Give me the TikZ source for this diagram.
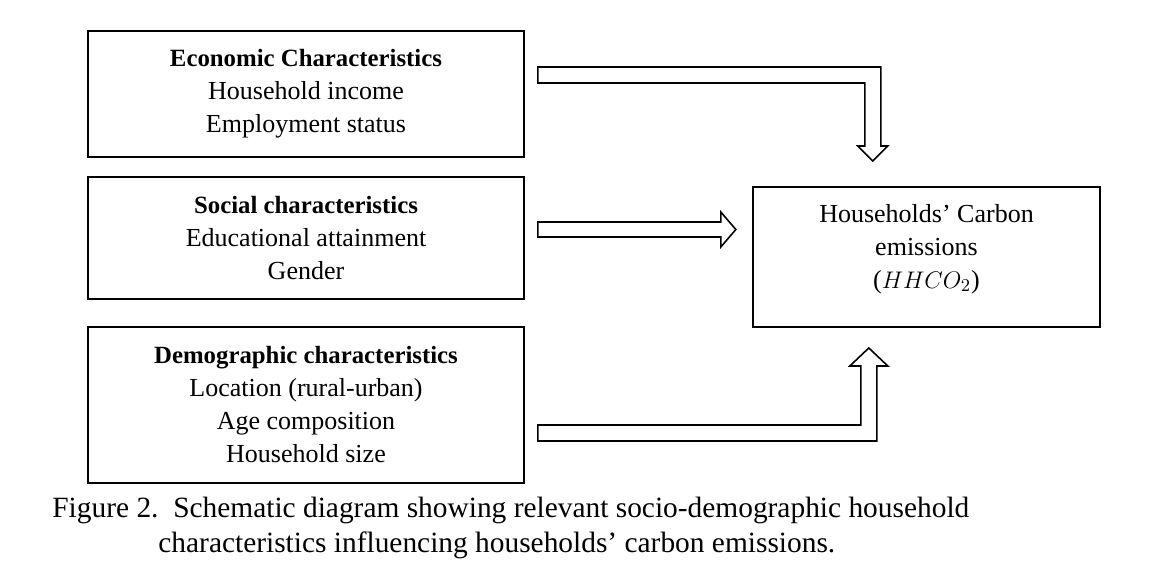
\documentclass[tikz,border=0pt]{standalone}
\usepackage{fontspec}
\setmainfont{Liberation Serif}
\usetikzlibrary{positioning}
\newcommand{\charhead}[1]{{\fontsize{12.4}{16.5}\selectfont\bfseries #1}}
\tikzset {
  char box/.style = {
    draw = black,
    line width = 0.8pt,
    rectangle,
    align = center,
    minimum width = 218pt,
    inner sep = 0
  },
  % target box on the right
  result box/.style = {
    char box,
    minimum width = 173.5pt,
    minimum height = 70pt
  },
  % hollow block arrow
  block arrow/.style = {
    draw = black,
    line width = 0.8pt,
    fill = white,
    line join = miter
  },
  caption line/.style = {
    anchor = west,
    inner sep = 0,
    font = \fontsize{14.7}{17}\selectfont
  }
}
\begin{document}
\begin{tikzpicture}[x=0.5pt, y=-0.5pt, font=\fontsize{13}{16.5}\selectfont]
    \useasboundingbox (0,0) rectangle (1149,582);

    \node[char box, minimum height = 63pt] (econ) at (306,94)
      {\charhead{Economic Characteristics}\\Household income\\Employment status};
    \node[char box, minimum height = 61pt] (social) at (306,238)
      {\charhead{Social characteristics}\\Educational attainment\\Gender};
    \node[char box, minimum height = 78pt] (demo) at (306,405)
      {\charhead{Demographic characteristics}\\Location (rural-urban)\\Age composition\\Household size};

    \node[result box] (hh) at (926.5,257) {};
    \node[align = center, inner sep = 0] (hhtext) at ([yshift=4pt]hh.center)
      {Households’ Carbon\\emissions\\($HHCO_2$)};

    % arrows into the result box
    \draw[block arrow] ([shift={(13,-27)}]econ.east) -- ++(343,0) -- ++(0,79)
      -- ++(7,0) -- ++(-15,15) -- ++(-15,-15) -- ++(7,0) -- ++(0,-63)
      -- ++(-327,0) -- cycle;
    \draw[block arrow] ([shift={(13,-16)}]social.east) -- ++(183,0) -- ++(0,-10)
      -- ++(15,17.5) -- ++(-15,17.5) -- ++(0,-10) -- ++(-183,0) -- cycle;
    \draw[block arrow] ([shift={(13,36)}]demo.east) -- ++(339,0) -- ++(0,-75)
      -- ++(11,0) -- ++(-19,-18) -- ++(-19,18) -- ++(11,0) -- ++(0,59)
      -- ++(-323,0) -- cycle;

    \node[caption line] (cap1) at (52,510)
      {Figure 2.\enspace Schematic diagram showing relevant socio-demographic household};
    \node[caption line] (cap2) at (158,545)
      {characteristics influencing households’ carbon emissions.};
  \end{tikzpicture}
\end{document}
